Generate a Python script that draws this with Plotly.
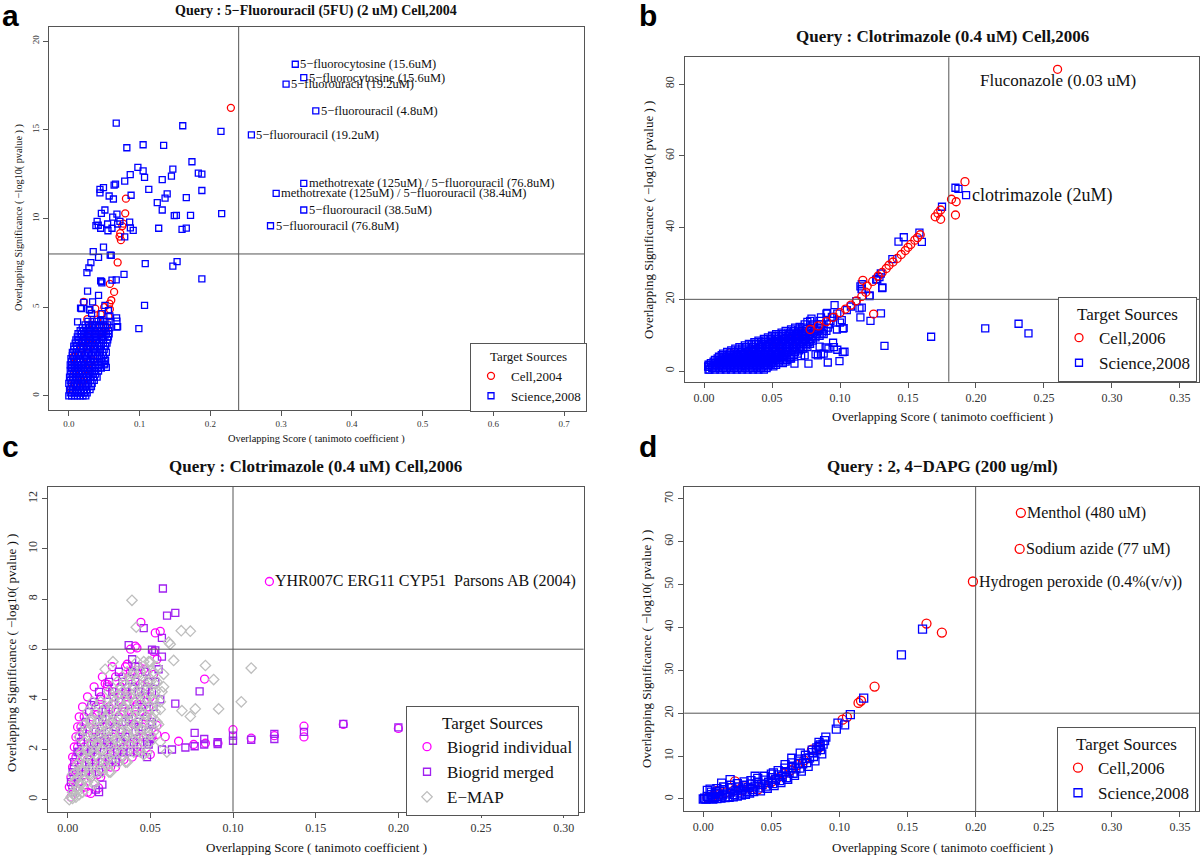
import plotly.graph_objects as go

W, H = 1200, 855
RED, BLUE = "#FF0000", "#0000FF"
MAG, PUR, GRY = "#FF00FF", "#A020F0", "#BEBEBE"
SERIF = "Liberation Serif"

# ================= Panel a : 5-Fluorouracil =================
a_label_names = ["5−fluorocytosine (15.6uM)", "5−fluorocytosine (15.6uM)", "5−fluorouracil (19.2uM)",
                 "5−fluorouracil (4.8uM)", "5−fluorouracil (19.2uM)",
                 "methotrexate (125uM) / 5−fluorouracil (76.8uM)",
                 "methotrexate (125uM) / 5−fluorouracil (38.4uM)",
                 "5−fluorouracil (38.5uM)", "5−fluorouracil (76.8uM)"]
a_label_x = [0.320, 0.332, 0.307, 0.349, 0.258, 0.332, 0.293, 0.332, 0.285]
a_label_y = [18.7, 17.95, 17.58, 16.07, 14.72, 11.98, 11.42, 10.48, 9.59]

a_sci_pts = [(0.067,15.38),(0.161,15.23),(0.215,14.91),(0.082,13.99),(0.105,14.16),(0.134,14.12),(0.174,13.2),
             (0.0976,12.88),(0.105,12.69),(0.0868,12.47),(0.107,12.32),(0.147,12.79),(0.145,12.39),(0.132,12.19),
             (0.183,12.56),(0.188,12.5),(0.079,12.11),(0.066,11.94),(0.064,11.88),(0.049,11.74),(0.044,11.64),
             (0.044,11.45),(0.113,11.64),(0.088,11.31),(0.057,11.27),(0.063,11.1),(0.139,11.39),(0.136,11.15),
             (0.166,11.18),(0.188,11.58),(0.125,10.89),(0.132,10.48),(0.149,10.16),(0.152,10.18),(0.172,10.18),
             (0.216,10.27),(0.046,10.29),(0.051,10.48),(0.068,10.25),(0.062,10.08),(0.040,9.84),(0.0416,9.62),
             (0.0383,9.6),(0.045,9.45),(0.0548,9.69),(0.0553,9.31),(0.061,9.45),(0.069,9.69),(0.0722,9.84),
             (0.086,9.8),(0.091,9.33),(0.087,9.47),(0.127,9.45),(0.160,9.39),(0.166,9.46),(0.079,8.96),
             (0.049,8.39),(0.0585,7.94),(0.06,7.92),(0.0345,8.13),(0.042,7.81),(0.0312,7.51),(0.0284,7.21),
             (0.0256,6.95),(0.108,7.46),(0.147,7.31),(0.153,7.57),(0.188,6.6),(0.045,6.48),(0.0467,6.37),
             (0.061,6.52),(0.067,6.54),(0.078,6.85),(0.0265,5.9),(0.042,5.66),(0.0336,5.3),(0.018,4.92),
             (0.029,4.87),(0.107,5.1),(0.0124,4.17),(0.099,3.79),(0.0467,4.63),(0.045,4.25),(0.068,4.21),
             (0.068,3.87),(0.0298,4.84),(0.0322,4.65),(0.051,5.1),(0.056,4.8),(0.058,4.5),(0.0675,4.4),
             (0.069,3.9),(0.0213,5.27),(0.0166,4.94),(0.051,1.8),(0.052,2.0),(0.053,1.6),(0.0463,6.44)]
a_sci_cluster = [(0.0, [0.000,0.004,0.008,0.012,0.016,0.020,0.024]),
                 (0.35, [0.001,0.005,0.009,0.013,0.017,0.021,0.025,0.030]),
                 (0.7, [0.000,0.004,0.008,0.012,0.016,0.020,0.024,0.028,0.033]),
                 (1.05, [0.001,0.005,0.009,0.013,0.017,0.021,0.025,0.030,0.035,0.040]),
                 (1.4, [0.002,0.006,0.010,0.014,0.018,0.022,0.026,0.031,0.036,0.042]),
                 (1.75, [0.002,0.006,0.010,0.014,0.018,0.023,0.028,0.033,0.038,0.044,0.050]),
                 (2.1, [0.003,0.007,0.011,0.015,0.020,0.025,0.030,0.035,0.040,0.046,0.051]),
                 (2.45, [0.005,0.009,0.013,0.018,0.023,0.028,0.033,0.038,0.043,0.048,0.053]),
                 (2.8, [0.007,0.011,0.016,0.021,0.026,0.031,0.036,0.041,0.046,0.052]),
                 (3.15, [0.010,0.014,0.019,0.024,0.029,0.034,0.039,0.044,0.049,0.055]),
                 (3.5, [0.013,0.018,0.023,0.028,0.033,0.038,0.043,0.048,0.053,0.057]),
                 (3.85, [0.019,0.024,0.029,0.034,0.040,0.046,0.052,0.058]),
                 (4.2, [0.027,0.033,0.039,0.045,0.051,0.057])]
a_sci_cluster2 = [(0.17, [0.002,0.006,0.010,0.014,0.018,0.022,0.026]),
                  (0.52, [0.003,0.007,0.011,0.015,0.019,0.023,0.027,0.032]),
                  (0.87, [0.002,0.006,0.010,0.014,0.018,0.022,0.026,0.031,0.036]),
                  (1.22, [0.003,0.007,0.011,0.015,0.019,0.023,0.028,0.033,0.038]),
                  (1.57, [0.004,0.008,0.012,0.016,0.020,0.024,0.029,0.034,0.040,0.046]),
                  (1.92, [0.004,0.008,0.012,0.016,0.021,0.026,0.031,0.036,0.041,0.047]),
                  (2.27, [0.005,0.009,0.013,0.017,0.022,0.027,0.032,0.037,0.043,0.049]),
                  (2.62, [0.007,0.011,0.016,0.020,0.025,0.030,0.035,0.040,0.045,0.050]),
                  (2.97, [0.009,0.013,0.018,0.023,0.028,0.033,0.038,0.043,0.049,0.054]),
                  (3.32, [0.012,0.016,0.021,0.026,0.031,0.036,0.041,0.046,0.051,0.056]),
                  (3.67, [0.016,0.021,0.026,0.031,0.036,0.041,0.046,0.051,0.056]),
                  (4.0, [0.023,0.028,0.033,0.038,0.043,0.049,0.055])]
a_cell_pts = [(0.229,16.24),(0.0807,11.12),(0.0797,10.29),(0.077,9.71),(0.0756,9.57),(0.0727,9.17),(0.0717,8.98),
              (0.0736,8.78),(0.069,7.52),(0.058,6.31),(0.064,5.86),(0.06,5.39),(0.0574,5.2),(0.021,5.3),
              (0.0374,4.92),(0.0261,4.32),(0.058,4.88),(0.056,4.48),(0.0533,3.88),(0.049,3.6),(0.0063,2.18),
              (0.003,0.4),(0.006,0.9),(0.009,1.4),(0.012,1.9),(0.015,2.3),(0.018,2.7),(0.022,3.1),(0.026,3.4),
              (0.03,3.7),(0.035,4.0),(0.04,4.3),(0.045,4.6),(0.05,5.0),(0.01,0.5),(0.016,1.2),(0.022,1.8),
              (0.028,2.4),(0.033,2.9),(0.038,3.3),(0.043,3.6),(0.02,0.8),(0.027,1.5),(0.034,2.0),(0.004,1.6),
              (0.008,2.2)]

# ================= Panel b : Clotrimazole (Cell 2006 / Science 2008) =================
b_label_names = ["Fluconazole (0.03 uM)", "clotrimazole (2uM)"]
b_label_x = [0.26, 0.1927]
b_label_y = [84.1, 49.06]
b_sci_pts = [(0.0033,0.4),(0.0033,1.2),(0.0033,1.8),(0.1327,7.06),(0.167,9.57),(0.1224,14.0),(0.1301,16.1),
             (0.115,14.98),(0.1143,17.5),(0.116,17.7),(0.1217,20.9),(0.131,23.1),(0.1266,25.5),(0.129,26.2),
             (0.115,23.6),(0.116,22.9),(0.096,18.4),(0.1013,14.2),(0.0977,11.6),(0.102,11.88),(0.1033,5.4),
             (0.0996,2.8),(0.091,2.4),(0.0768,2.1),(0.0665,2.1),(0.0837,4.4),(0.088,4.9),(0.0955,6.7),
             (0.098,5.96),(0.0894,6.6),(0.085,6.8),(0.082,4.7),(0.086,4.7),(0.074,4.4),(0.0714,4.2),(0.064,3.5),
             (0.079,14.6),(0.076,13.7),(0.0703,12.3),(0.0906,16.2),(0.094,15.1),(0.143,36.1),(0.1469,37.3),
             (0.1602,36.0),(0.1584,38.6),(0.1385,31.2),(0.130,27.2),(0.1274,25.6),(0.116,24.2),(0.116,22.8),
             (0.1218,21.1),(0.1312,23.3),(0.175,45.8),(0.1849,51.1),(0.1871,50.8),(0.1927,49.06),(0.2068,11.9),
             (0.2313,13.2),(0.2386,10.5),(0.1,13.5),(0.105,17.0),(0.108,18.0),(0.112,19.5),(0.0915,6.3),
             (0.0949,7.9),(0.102,5.3),(0.1027,12.0)]
b_sci_cluster = [(0.4, [0.004,0.008,0.012,0.016,0.020,0.024,0.028,0.032,0.036,0.040,0.044]),
                 (1.3, [0.003,0.007,0.011,0.015,0.019,0.023,0.027,0.031,0.035,0.039,0.043,0.047,0.051]),
                 (2.2, [0.005,0.009,0.013,0.017,0.021,0.025,0.029,0.033,0.037,0.041,0.045,0.049,0.053,0.058]),
                 (3.1, [0.008,0.012,0.016,0.020,0.024,0.028,0.032,0.036,0.040,0.044,0.048,0.052,0.056,0.061]),
                 (4.0, [0.011,0.015,0.019,0.023,0.027,0.031,0.035,0.039,0.043,0.047,0.051,0.055,0.059,0.064]),
                 (4.9, [0.014,0.019,0.024,0.029,0.034,0.039,0.044,0.049,0.054,0.059,0.064,0.069]),
                 (5.8, [0.020,0.025,0.030,0.035,0.040,0.045,0.050,0.055,0.060,0.065,0.070]),
                 (6.7, [0.026,0.031,0.036,0.041,0.046,0.051,0.056,0.061,0.066,0.071,0.076]),
                 (7.6, [0.033,0.038,0.043,0.048,0.053,0.058,0.063,0.068,0.073,0.078]),
                 (8.5, [0.040,0.045,0.050,0.055,0.060,0.065,0.070,0.075,0.080]),
                 (9.4, [0.047,0.052,0.057,0.062,0.067,0.072,0.077,0.082]),
                 (10.3, [0.053,0.058,0.063,0.068,0.073,0.078,0.083,0.088]),
                 (11.2, [0.060,0.066,0.072,0.078,0.084,0.090]),
                 (12.1, [0.067,0.073,0.079,0.085,0.091]),
                 (13.0, [0.074,0.080,0.086,0.092]),
                 (14.0, [0.078,0.085,0.093]),
                 (15.0, [0.086,0.095]),
                 (16.0, [0.090,0.098])]
b_sci_cluster2 = [(0.85, [0.006,0.010,0.014,0.018,0.022,0.026,0.030,0.034,0.038,0.042,0.046]),
                  (1.75, [0.004,0.009,0.013,0.017,0.021,0.025,0.029,0.033,0.037,0.041,0.045,0.049,0.053]),
                  (2.65, [0.007,0.011,0.015,0.019,0.023,0.027,0.031,0.035,0.039,0.043,0.047,0.051,0.055,0.060]),
                  (3.55, [0.010,0.014,0.018,0.022,0.026,0.030,0.034,0.038,0.042,0.046,0.050,0.054,0.058,0.063]),
                  (4.45, [0.013,0.017,0.021,0.025,0.029,0.033,0.037,0.041,0.045,0.049,0.053,0.057,0.061,0.066]),
                  (5.35, [0.017,0.022,0.027,0.032,0.037,0.042,0.047,0.052,0.057,0.062,0.067]),
                  (6.25, [0.023,0.028,0.033,0.038,0.043,0.048,0.053,0.058,0.063,0.068,0.073]),
                  (7.15, [0.030,0.035,0.040,0.045,0.050,0.055,0.060,0.065,0.070,0.075]),
                  (8.05, [0.037,0.042,0.047,0.052,0.057,0.062,0.067,0.072,0.077]),
                  (8.95, [0.044,0.049,0.054,0.059,0.064,0.069,0.074,0.079]),
                  (9.85, [0.050,0.055,0.060,0.065,0.070,0.075,0.080,0.085]),
                  (10.75, [0.057,0.063,0.069,0.075,0.081,0.087]),
                  (11.65, [0.064,0.070,0.076,0.082,0.088])]
b_cell_low = [(0.012,2.5),(0.018,3.5),(0.019,5.1),(0.024,4.3),(0.03,5.0),(0.036,5.8),(0.042,6.6),(0.048,7.3),
              (0.054,8.1),(0.06,8.9),(0.066,9.8),(0.072,10.7),(0.01,2.0),(0.015,3.0),(0.025,3.0),(0.035,4.0),
              (0.045,5.5),(0.055,7.0),(0.065,8.5)]
b_cell_pts = [(0.078,11.6),(0.084,12.6),(0.09,13.8),(0.095,15.0),
              (0.1,16.3),(0.104,17.3),(0.108,18.4),(0.112,19.6),(0.116,20.8),(0.119,22.0),(0.1168,25.3),
              (0.12,23.7),(0.124,25.0),(0.128,26.5),(0.131,27.5),(0.134,28.6),(0.136,29.5),(0.139,30.4),
              (0.142,31.4),(0.145,32.5),(0.148,33.6),(0.15,34.5),(0.152,35.3),(0.155,36.5),(0.157,37.2),
              (0.159,38.0),(0.17,43.0),(0.172,44.0),(0.174,42.3),(0.174,44.9),(0.182,47.9),(0.1854,47.2),
              (0.1849,43.5),(0.1919,52.8),(0.26,84.1),(0.1247,15.9)]

# ================= Panel c : Clotrimazole (Biogrid / E-MAP) =================
c_label_names = ["YHR007C ERG11 CYP51  Parsons AB (2004)"]
c_label_x = [0.122]
c_label_y = [8.7]
c_ind_pts = [(0.002,0.1),(0.003,0.5),(0.004,0.9),(0.004,1.3),(0.005,1.7),(0.006,2.1),(0.007,2.5),(0.008,2.9),
             (0.010,3.3),(0.012,0.3),(0.014,0.25),(0.0187,0.47),(0.010,1.0),(0.012,1.6),(0.014,2.2),(0.016,2.8),
             (0.018,3.4),(0.020,4.0),(0.0227,4.63),(0.018,1.0),(0.020,1.5),(0.022,2.4),(0.024,3.0),(0.026,3.6),
             (0.028,4.3),(0.024,4.6),(0.026,1.3),(0.030,2.0),(0.032,2.8),(0.034,3.5),(0.036,4.2),(0.033,4.9),
             (0.036,5.4),(0.038,5.1),(0.034,1.6),(0.038,2.2),(0.040,3.0),(0.042,3.8),(0.044,4.6),(0.0409,6.12),
             (0.0419,6.05),(0.0443,7.07),(0.053,6.65),(0.056,6.71),(0.042,1.9),(0.046,2.5),(0.048,3.3),(0.050,4.1),
             (0.052,5.0),(0.054,5.6),(0.050,1.8),(0.054,2.6),(0.0590,2.51),(0.0540,2.96),(0.0671,2.33),
             (0.0762,2.2),(0.0828,4.81),(0.1,2.79),(0.111,2.45),(0.125,2.55),(0.1429,2.93),(0.1429,2.5),
             (0.1667,3.0),(0.2,2.84),(0.0909,2.25),(0.0833,2.25),(0.122,8.7),(0.046,5.2),(0.032,4.5),
             (0.038,6.0),(0.052,5.9)]
c_ind_rows = [(0.5, [0.001,0.005,0.010]),
              (0.9, [0.002,0.006,0.014,0.020]),
              (1.3, [0.003,0.007,0.015,0.023,0.029]),
              (1.7, [0.003,0.009,0.017,0.025,0.033,0.039]),
              (2.1, [0.004,0.010,0.018,0.026,0.034,0.042]),
              (2.5, [0.005,0.011,0.019,0.027,0.035,0.043,0.051]),
              (2.9, [0.006,0.013,0.021,0.029,0.037,0.045]),
              (3.3, [0.007,0.015,0.023,0.031,0.039,0.047]),
              (3.7, [0.009,0.017,0.025,0.033,0.041,0.049]),
              (4.1, [0.012,0.020,0.028,0.036,0.044]),
              (4.5, [0.016,0.024,0.032,0.040,0.048]),
              (4.9, [0.021,0.029,0.037,0.045]),
              (5.3, [0.027,0.035,0.043])]
c_mer_pts = [(0.003,0.3),(0.005,1.1),(0.007,1.9),(0.009,2.7),(0.0143,3.77),(0.013,1.3),(0.015,2.0),(0.017,0.4),
             (0.019,0.3),(0.021,0.6),(0.019,2.6),(0.021,3.2),(0.023,3.6),(0.025,2.2),(0.027,1.6),(0.029,2.9),
             (0.031,3.9),(0.033,1.9),(0.035,2.5),(0.037,3.2),(0.039,4.5),(0.041,5.3),(0.0369,6.16),(0.039,5.6),
             (0.043,2.9),(0.045,3.7),(0.046,6.84),(0.047,4.4),(0.049,2.2),(0.051,3.0),(0.053,4.7),(0.051,5.98),
             (0.053,5.95),(0.055,5.2),(0.057,6.45),(0.0576,8.42),(0.0601,7.34),(0.0651,7.45),(0.057,5.7),
             (0.0651,3.83),(0.0798,4.32),(0.0768,2.66),(0.0826,2.42),(0.0826,2.2),(0.0907,2.29),(0.0907,2.22),
             (0.0631,2.0),(0.0712,2.08),(0.0768,2.13),(0.0500,2.42),(0.1,2.55),(0.1,2.35),(0.111,2.39),
             (0.125,2.62),(0.125,2.42),(0.1429,2.7),(0.1667,3.02),(0.2,2.88),(0.048,1.7),(0.057,2.0),
             (0.044,1.9),(0.052,3.7),(0.056,4.0)]
c_mer_rows = [(0.7, [0.002,0.007]),
              (1.1, [0.003,0.011,0.019]),
              (1.5, [0.004,0.013,0.021,0.029]),
              (1.9, [0.006,0.014,0.022,0.030,0.038]),
              (2.3, [0.008,0.016,0.024,0.032,0.040,0.048]),
              (2.7, [0.009,0.017,0.025,0.033,0.041,0.049]),
              (3.1, [0.011,0.019,0.027,0.035,0.043,0.051]),
              (3.5, [0.013,0.021,0.029,0.037,0.045]),
              (3.9, [0.016,0.024,0.032,0.040,0.048]),
              (4.3, [0.019,0.027,0.035,0.043,0.051]),
              (4.7, [0.025,0.033,0.041,0.049]),
              (5.1, [0.031,0.039,0.047])]
c_emap_pts = [(0.001,0.0),(0.002,0.1),(0.003,0.05),(0.004,0.2),(0.005,0.1),(0.006,0.4),(0.007,0.2),(0.008,0.6),
              (0.009,0.3),(0.010,0.8),(0.005,0.8),(0.006,1.4),(0.008,1.2),(0.009,1.8),(0.011,1.4),(0.012,2.0),
              (0.013,1.0),(0.015,1.5),(0.016,2.4),(0.017,1.8),(0.018,2.2),(0.019,2.9),(0.020,1.2),(0.021,2.0),
              (0.022,2.7),(0.023,3.3),(0.024,1.6),(0.025,2.5),(0.026,3.0),(0.027,3.8),(0.028,1.9),(0.029,2.4),
              (0.030,3.3),(0.031,4.2),(0.032,2.2),(0.033,3.0),(0.034,3.7),(0.035,4.6),(0.036,2.6),(0.037,3.4),
              (0.038,4.1),(0.039,5.0),(0.040,2.4),(0.041,3.0),(0.042,3.6),(0.043,4.3),(0.044,5.1),(0.045,2.8),
              (0.046,3.4),(0.047,4.0),(0.048,4.7),(0.049,5.5),(0.050,2.6),(0.051,3.3),(0.052,4.0),(0.053,4.6),
              (0.054,5.3),(0.055,3.0),(0.056,3.6),(0.057,4.3),(0.058,5.0),(0.0415,6.88),(0.0389,7.95),
              (0.0611,6.28),(0.0687,6.74),(0.0742,6.72),(0.0641,5.55),(0.0833,5.35),(0.0883,4.79),(0.0274,5.5),
              (0.0227,5.2),(0.0691,3.55),(0.0742,3.32),(0.0772,3.62),(0.0913,3.62),(0.105,3.9),(0.111,5.25),
              (0.015,3.9),(0.012,3.5),(0.010,3.0),(0.062,6.2),(0.058,4.5),(0.056,2.3),(0.060,1.9),(0.003,1.0),
              (0.007,2.5),(0.011,2.8),(0.014,3.2),(0.046,1.8),(0.036,1.5),(0.026,1.1),(0.016,0.6)]
c_emap_rows = [(0.3, [0.003,0.006,0.009]),
               (0.7, [0.004,0.008,0.012,0.016]),
               (1.1, [0.005,0.009,0.013,0.017,0.021,0.025]),
               (1.5, [0.007,0.011,0.015,0.019,0.023,0.027,0.031,0.035]),
               (1.9, [0.008,0.012,0.016,0.020,0.024,0.028,0.032,0.036,0.040,0.044,0.048]),
               (2.3, [0.010,0.014,0.018,0.022,0.026,0.030,0.034,0.038,0.042,0.046,0.050]),
               (2.7, [0.012,0.016,0.020,0.024,0.028,0.032,0.036,0.040,0.044,0.048,0.052]),
               (3.1, [0.014,0.018,0.022,0.026,0.030,0.034,0.038,0.042,0.046,0.050,0.054]),
               (3.5, [0.017,0.021,0.025,0.029,0.033,0.037,0.041,0.045,0.049,0.053]),
               (3.9, [0.020,0.024,0.028,0.032,0.036,0.040,0.044,0.048,0.052,0.056]),
               (4.3, [0.025,0.029,0.033,0.037,0.041,0.045,0.049,0.053]),
               (4.7, [0.030,0.034,0.038,0.042,0.046,0.050,0.054]),
               (5.1, [0.036,0.040,0.044,0.048,0.052]),
               (5.5, [0.042,0.046,0.050])]

# ================= Panel d : 2,4-DAPG =================
d_label_names = ["Menthol (480 uM)", "Sodium azide (77 uM)", "Hydrogen peroxide (0.4%(v/v))"]
d_label_x = [0.2332, 0.2323, 0.198]
d_label_y = [66.7, 58.3, 50.7]
d_sci_pts = [(0.0,0.0),(0.002,0.0),(0.004,0.1),(0.007,0.0),(0.010,0.1),(0.013,0.2),(0.016,0.3),(0.019,0.4),
             (0.022,0.5),(0.025,0.7),(0.028,0.9),(0.031,1.1),(0.034,1.4),(0.037,1.7),(0.003,2.0),(0.006,1.6),
             (0.009,1.2),(0.001,0.2),(0.003,0.6),(0.005,0.2),(0.006,1.0),(0.008,0.4),(0.009,1.4),(0.011,0.6),
             (0.012,1.8),(0.014,0.9),(0.015,2.2),(0.017,1.2),(0.018,0.5),(0.02,1.6),(0.021,2.6),(0.023,1.0),
             (0.024,2.0),(0.026,2.8),(0.027,1.4),(0.029,2.3),(0.03,3.2),(0.032,1.8),(0.033,2.7),(0.035,3.5),
             (0.036,2.2),(0.038,3.0),(0.04,3.9),(0.041,2.6),(0.043,3.4),(0.045,4.4),(0.046,3.0),(0.048,3.9),
             (0.05,5.0),(0.051,3.6),(0.053,4.6),(0.055,5.6),(0.056,4.3),(0.058,5.3),(0.06,6.4),(0.061,5.0),
             (0.063,6.1),(0.065,7.3),(0.066,6.0),(0.068,7.0),(0.07,8.3),(0.071,7.2),(0.073,8.2),(0.075,9.4),
             (0.076,8.5),(0.078,9.6),(0.08,10.8),(0.081,9.9),(0.083,11.2),(0.085,12.3),(0.086,11.5),(0.088,12.8),
             (0.09,14.4),(0.0859,12.6),(0.0891,13.6),(0.0977,16.3),(0.0989,17.7),(0.1038,17.3),(0.108,19.65),
             (0.1178,23.5),(0.1455,33.6),(0.161,39.6),(0.0712,10.7),(0.065,9.5),(0.0601,8.0),(0.0515,6.1),
             (0.0381,5.3),(0.0197,4.5),(0.0135,3.7),(0.0834,11.9),
             (0.04,4.8),(0.045,5.3),(0.05,5.8),(0.055,6.6),(0.06,7.2),(0.065,8.4),(0.07,9.3),(0.075,10.2),
             (0.08,11.4),(0.085,13.2),(0.03,4.0),(0.035,4.3),(0.025,3.6),(0.02,3.2),(0.015,2.8),(0.01,2.4),
             (0.005,2.3),(0.042,1.9),(0.047,2.5),(0.052,3.1),(0.057,3.8),(0.062,4.6),(0.067,5.5),(0.072,6.5),
             (0.077,7.6),(0.082,8.9),(0.087,10.5)]
d_cell_pts = [(0.003,0.3),(0.007,0.7),(0.012,1.1),(0.016,1.5),(0.022,1.9),(0.028,2.0),(0.034,2.6),(0.04,2.2),
              (0.044,3.3),(0.05,4.0),(0.054,4.8),(0.059,5.8),(0.064,6.7),(0.069,7.9),(0.074,9.0),(0.0798,11.5),
              (0.085,12.0),(0.0233,4.1),(0.1023,18.5),(0.1055,19.1),(0.114,22.4),(0.1158,22.9),(0.1258,26.2),
              (0.1639,40.9),(0.1752,38.8),(0.198,50.7),(0.2323,58.3),(0.2332,66.7),(0.01,1.9),(0.03,3.0)]


def xs(p):
    return [q[0] for q in p]


def ys(p):
    return [q[1] for q in p]


def expand(rows):
    out = []
    for yv, xl in rows:
        out += [(xv, yv) for xv in xl]
    return out


fig = go.Figure()


def add(pts, xa, ya, name, sym, color, size, legend, rank, show=True):
    fig.add_trace(go.Scatter(x=xs(pts), y=ys(pts), mode="markers", name=name, xaxis=xa, yaxis=ya,
                             legend=legend, legendrank=rank, showlegend=show, hoverinfo="skip",
                             marker=dict(symbol=sym, color=color, size=size, line=dict(width=1.3, color=color))))


# panel a (red drawn under blue)
add(a_cell_pts, "x", "y", "Cell,2004", "circle-open", RED, 7, "legend", 1)
a_sci_all = expand(a_sci_cluster) + expand(a_sci_cluster2) + a_sci_pts + list(zip(a_label_x, a_label_y))
add(a_sci_all, "x", "y", "Science,2008", "square-open", BLUE, 6, "legend", 2)
# panel b
add(b_cell_low, "x2", "y2", "Cell,2006", "circle-open", RED, 8, "legend2", 1, show=False)
b_sci_all = expand(b_sci_cluster) + expand(b_sci_cluster2) + b_sci_pts
add(b_sci_all, "x2", "y2", "Science,2008", "square-open", BLUE, 7, "legend2", 2)
add(b_cell_pts, "x2", "y2", "Cell,2006", "circle-open", RED, 8, "legend2", 1)
# panel c
add(c_ind_pts + expand(c_ind_rows), "x3", "y3", "Biogrid individual", "circle-open", MAG, 8, "legend3", 1)
add(c_mer_pts + expand(c_mer_rows), "x3", "y3", "Biogrid merged", "square-open", PUR, 7, "legend3", 2)
add(c_emap_pts + expand(c_emap_rows), "x3", "y3", "E−MAP", "diamond-open", GRY, 8, "legend3", 3)
# panel d
add(d_cell_pts, "x4", "y4", "Cell,2006", "circle-open", RED, 9, "legend4", 1)
add(d_sci_pts, "x4", "y4", "Science,2008", "square-open", BLUE, 8, "legend4", 2)


def px_x(p):
    return p / W


def px_y(p):
    return 1 - p / H


def axis(dom, rng, vals, fmt, fs, anchor, angle=0):
    return dict(domain=dom, range=rng, tickvals=vals, ticktext=[fmt.format(v) for v in vals],
                showline=True, mirror=True, linecolor="#555", linewidth=1, ticks="outside", ticklen=5,
                tickcolor="#555", showgrid=False, zeroline=False, anchor=anchor, tickangle=angle,
                tickfont=dict(family=SERIF, size=fs, color="#333"))


xa_vals = [0, 0.1, 0.2, 0.3, 0.4, 0.5, 0.6, 0.7]
xb_vals = [0, 0.05, 0.10, 0.15, 0.20, 0.25, 0.30, 0.35]
xc_vals = [0, 0.05, 0.10, 0.15, 0.20, 0.25, 0.30]
ya_vals = [0, 5, 10, 15, 20]
yb_vals = [0, 20, 40, 60, 80]
yc_vals = [0, 2, 4, 6, 8, 10, 12]
yd_vals = [0, 10, 20, 30, 40, 50, 60, 70]

dom_a = ([px_x(49), px_x(584)], [px_y(410), px_y(27)])
dom_b = ([px_x(685), px_x(1199)], [px_y(381.7), px_y(57.3)])
dom_c = ([px_x(47.8), px_x(583.6)], [px_y(811.7), px_y(486.7)])
dom_d = ([px_x(684.2), px_x(1199)], [px_y(811), px_y(486.7)])

layout = dict(
    width=W, height=H, margin=dict(l=0, r=0, t=0, b=0), paper_bgcolor="white", plot_bgcolor="white",
    xaxis=axis(dom_a[0], [-0.028, 0.728], xa_vals, "{:.1f}", 9, "y"),
    yaxis=axis(dom_a[1], [-0.8, 20.8], ya_vals, "{:d}", 9, "x", -90),
    xaxis2=axis(dom_b[0], [-0.014, 0.364], xb_vals, "{:.2f}", 12, "y2"),
    yaxis2=axis(dom_b[1], [-2.95, 87.45], yb_vals, "{:d}", 12, "x2", -90),
    xaxis3=axis(dom_c[0], [-0.012, 0.312], xc_vals, "{:.2f}", 12, "y3"),
    yaxis3=axis(dom_c[1], [-0.48, 12.48], yc_vals, "{:d}", 12, "x3", -90),
    xaxis4=axis(dom_d[0], [-0.014, 0.364], xb_vals, "{:.2f}", 12, "y4"),
    yaxis4=axis(dom_d[1], [-2.8, 72.8], yd_vals, "{:d}", 12, "x4", -90),
)


def leg(xl, yt, fs):
    return dict(x=px_x(xl), y=px_y(yt), xanchor="left", yanchor="top", bgcolor="white",
                bordercolor="#555", borderwidth=1, font=dict(family=SERIF, size=fs, color="#111"),
                title=dict(text="Target Sources", side="top center", font=dict(family=SERIF, size=fs, color="#111")))


layout["legend"] = leg(470, 343, 13)
layout["legend2"] = leg(1058, 297, 17)
layout["legend3"] = leg(406, 706, 17)
layout["legend4"] = leg(1057, 727, 17)

# reference lines
shapes = []
for xa, ya, vx, hy in [("x", "y", 0.24, 8), ("x2", "y2", 0.18, 20), ("x3", "y3", 0.10, 6), ("x4", "y4", 0.20, 20)]:
    shapes.append(dict(type="line", xref=xa, yref=ya + " domain", x0=vx, x1=vx, y0=0, y1=1,
                       line=dict(color="#555", width=1)))
    shapes.append(dict(type="line", xref=xa + " domain", yref=ya, x0=0, x1=1, y0=hy, y1=hy,
                       line=dict(color="#555", width=1)))
layout["shapes"] = shapes

ann = []
# point labels
for names, lx, ly, xa, ya, fs, sh in [(a_label_names, a_label_x, a_label_y, "x", "y", 12.5, 3),
                                      (c_label_names, c_label_x, c_label_y, "x3", "y3", 16, 4),
                                      (d_label_names, d_label_x, d_label_y, "x4", "y4", 16, 4)]:
    for n, xv, yv in zip(names, lx, ly):
        ann.append(dict(text=n, x=xv, y=yv, xref=xa, yref=ya, xanchor="left", yanchor="middle", xshift=sh,
                        showarrow=False, font=dict(family=SERIF, size=fs, color="#111")))
ann.append(dict(text=b_label_names[0], x=b_label_x[0], y=b_label_y[0], xref="x2", yref="y2", xanchor="center",
                yanchor="middle", yshift=-11, showarrow=False, font=dict(family=SERIF, size=17, color="#111")))
ann.append(dict(text=b_label_names[1], x=b_label_x[1], y=b_label_y[1], xref="x2", yref="y2", xanchor="left",
                yanchor="middle", xshift=4, showarrow=False, font=dict(family=SERIF, size=18, color="#111")))


def pann(text, x, y, fs, bold=False, angle=0, family=SERIF, color="#111"):
    t = "<b>%s</b>" % text if bold else text
    ann.append(dict(text=t, x=px_x(x), y=px_y(y), xref="paper", yref="paper", xanchor="center", yanchor="middle",
                    textangle=angle, showarrow=False, font=dict(family=family, size=fs, color=color)))


# titles
pann("Query : 5−Fluorouracil (5FU) (2 uM) Cell,2004", 316, 11, 14, bold=True)
pann("Query : Clotrimazole (0.4 uM) Cell,2006", 942.5, 36, 17, bold=True)
pann("Query : Clotrimazole (0.4 uM) Cell,2006", 316, 466, 17, bold=True)
pann("Query : 2, 4−DAPG (200 ug/ml)", 942.5, 466, 17, bold=True)
# axis titles
xt = "Overlapping Score ( tanimoto coefficient )"
yt = "Overlapping Significance ( −log10( pvalue ) )"
pann(xt, 316.5, 439, 10.4)
pann(yt, 19, 218, 10.2, angle=-90)
pann(xt, 942.5, 417, 13)
pann(yt, 648, 220, 13, angle=-90)
pann(xt, 316.5, 847, 13)
pann(yt, 11, 653, 13, angle=-90)
pann(xt, 942, 847, 13)
pann(yt, 646, 649, 13, angle=-90)
# panel letters
for letter, x, y in [("a", 10, 15), ("b", 648, 15), ("c", 10, 447), ("d", 648, 446)]:
    pann(letter, x, y, 30, bold=True, family="Liberation Sans", color="#000")

layout["annotations"] = ann
layout["hovermode"] = False
fig.update_layout(**layout)
fig.write_html("out.html", config={"displayModeBar": False, "staticPlot": True},
               post_script="document.body.style.margin='0';document.body.style.overflow='hidden';")
